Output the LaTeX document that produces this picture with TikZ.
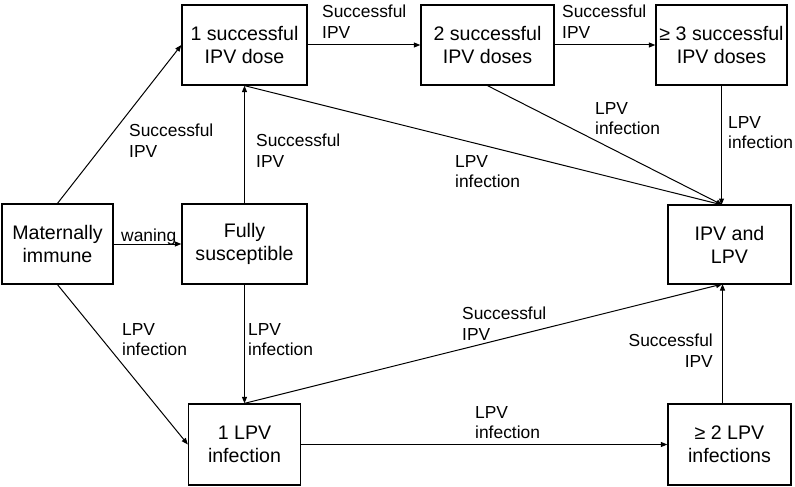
\documentclass[tikz,border=0pt]{standalone}
\usepackage{fontspec}
\setmainfont{Liberation Sans}
\usetikzlibrary{arrows.meta}
\begin{document}
\begin{tikzpicture}[x=1pt,y=-1pt,
  box/.style={draw, line width=1.3pt, align=center, inner sep=0pt,
    font=\fontsize{19.6}{23}\selectfont, minimum height=80pt},
  lbl/.style={align=left, inner sep=0pt, anchor=north west,
    font=\fontsize{17.4}{20.5}\selectfont},
  arr/.style={line width=1pt, -{Triangle[length=6.5pt,width=5pt]}}]
\useasboundingbox (0,0) rectangle (795,487);
% boxes
\node[box, minimum width=125pt] (b1) at (244.5,45) {1 successful\\IPV dose};
\node[box, minimum width=133pt] (b2) at (487.5,45) {2 successful\\IPV doses};
\node[box, minimum width=131pt] (b3) at (721.5,45) {≥ 3 successful\\IPV doses};
\node[box, minimum width=111pt] (mat) at (57.5,244) {Maternally\\immune};
\node[box, minimum width=125pt] (fs) at (244.5,244) {Fully\\susceptible};
\node[box, minimum width=123pt, minimum height=79pt] (both) at (729.5,244.5) {IPV and\\LPV};
\node[box, minimum width=112pt, minimum height=81pt] (l1) at (244.5,444.5) {1 LPV\\infection};
\node[box, minimum width=123pt, minimum height=81pt] (l2) at (729.5,444.5) {≥ 2 LPV\\infections};
\coordinate (ttop) at (722.5,205);
\coordinate (tbot) at (722.5,284);
% connectors
\draw[arr] (b1.east) -- (b2.west);
\draw[arr] (b2.east) -- (b3.west);
\draw[arr] (mat.east) -- (fs.west);
\draw[arr] (fs.north) -- (b1.south);
\draw[arr] (mat.north) -- (b1.west);
\draw[arr] (b1.south) -- (ttop);
\draw[arr] (b2.south) -- (ttop);
\draw[arr] (b3.south) -- (b3.south |- ttop);
\draw[arr] (mat.south) -- (l1.west);
\draw[arr] (fs.south) -- (l1.north);
\draw[arr] (l1.north) -- (tbot);
\draw[arr] (l1.east) -- (l2.west);
\draw[arr] (tbot |- l2.north) -- (tbot);
% labels
\node[lbl] (t1) at (322,5) {Successful\\IPV};
\node[lbl] (t2) at (562,5) {Successful\\IPV};
\node[lbl] (t3) at (129,124) {Successful\\IPV};
\node[lbl] (t4) at (256,134) {Successful\\IPV};
\node[lbl, anchor=base west] (t5) at (121,241) {waning};
\node[lbl] (t6) at (455,155) {LPV\\infection};
\node[lbl] (t7) at (595,102) {LPV\\infection};
\node[lbl] (t8) at (728,116) {LPV\\infection};
\node[lbl] (t9) at (122,323) {LPV\\infection};
\node[lbl] (t10) at (248,323) {LPV\\infection};
\node[lbl] (t11) at (462,307) {Successful\\IPV};
\node[lbl, align=right, anchor=north east] (t12) at (713,334) {Successful\\IPV};
\node[lbl] (t13) at (475,406) {LPV\\infection};
\end{tikzpicture}
\end{document}
